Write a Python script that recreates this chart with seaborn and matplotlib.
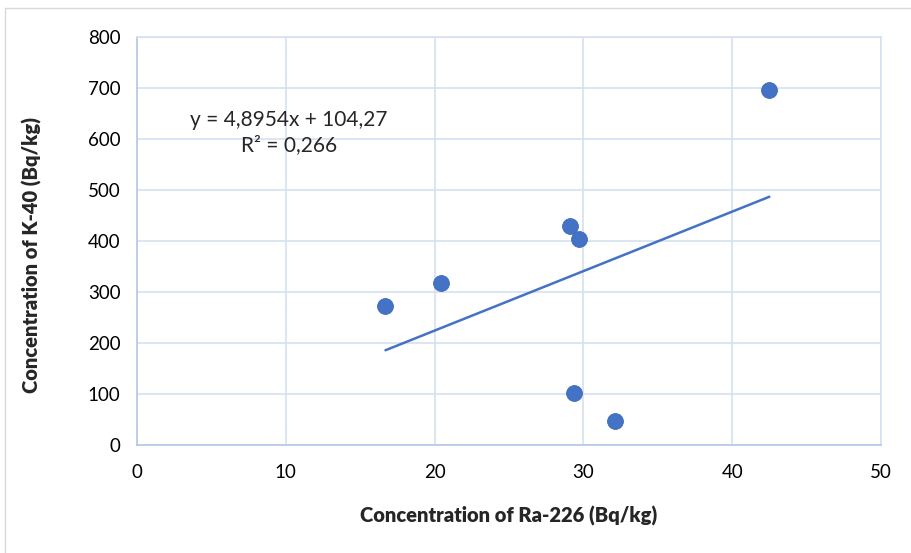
import seaborn as sns
import matplotlib.pyplot as plt
import pandas as pd
from matplotlib.lines import Line2D

ra226 = [16.7, 20.4, 29.1, 29.7, 29.4, 32.1, 42.5]
k40 = [272, 317, 429, 404, 102, 48, 697]
equation = "y = 4,8954x + 104,27"
r2_text = "R² = 0,266"

df = pd.DataFrame({"Ra226": ra226, "K40": k40})

sns.set_style("white")
plt.rcParams['font.family'] = ['Lato', 'DejaVu Sans']

fig = plt.figure(figsize=(9.11, 5.53), dpi=100)
ax = fig.add_axes([0.1504, 0.1953, 0.8166, 0.7377])

blue = "#4472C4"
grid = "#D6E0F0"

sns.regplot(data=df, x="Ra226", y="K40", ax=ax, ci=None, truncate=True,
            scatter_kws={"s": 130, "color": blue, "alpha": 1, "edgecolor": "#3d6ab8",
                         "linewidths": 0.6, "zorder": 3},
            line_kws={"color": blue, "linewidth": 1.8, "zorder": 2})

ax.set_xlim(0, 50)
ax.set_ylim(0, 800)
ax.set_xticks(range(0, 51, 10))
ax.set_yticks(range(0, 801, 100))
ax.grid(True, color=grid, linewidth=1.2)
ax.set_axisbelow(True)
for s in ax.spines.values():
    s.set_color(grid)
    s.set_linewidth(1.2)
ax.spines["left"].set_color("#B4C7E7")
ax.spines["bottom"].set_color("#B4C7E7")
ax.tick_params(axis="both", length=0, labelsize=13.5, pad=12, colors="black")
ax.tick_params(axis="x", pad=14)

ax.set_xlabel("Concentration of Ra-226 (Bq/kg)", fontsize=14.5, fontweight="heavy")
ax.set_ylabel("Concentration of K-40 (Bq/kg)", fontsize=14.5, fontweight="heavy")
ax.xaxis.set_label_coords(0.5, -0.149)
ax.yaxis.set_label_coords(-0.128, 0.465)

ax.text(10.2, 638, equation, fontsize=15, ha="center", va="center")
ax.text(10.2, 588, r2_text, fontsize=15, ha="center", va="center")

# outer chart frame
fig.add_artist(Line2D([0.006, 0.006], [0.0, 0.985], transform=fig.transFigure, color="#D9D9D9", linewidth=1))
fig.add_artist(Line2D([0.006, 1.0], [0.985, 0.985], transform=fig.transFigure, color="#D9D9D9", linewidth=1))

plt.savefig("out.png", dpi=100)
